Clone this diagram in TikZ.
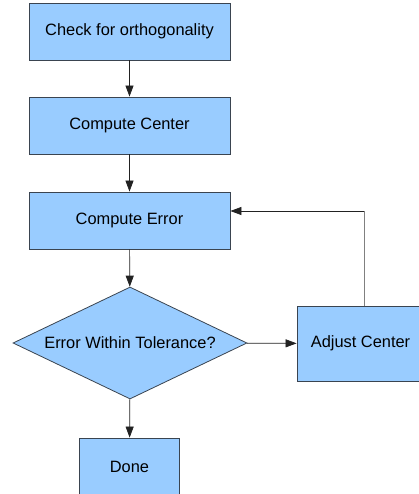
\documentclass[tikz,border=0pt]{standalone}
\usepackage{fontspec}
\setmainfont{Liberation Sans}
\usetikzlibrary{shapes.geometric,arrows.meta}
\definecolor{boxfill}{HTML}{99CCFF}
\definecolor{boxline}{HTML}{3A4450}
\definecolor{wire}{HTML}{222222}
\begin{document}
\begin{tikzpicture}[x=1pt,y=-1pt,
  every node/.style={font=\fontsize{16.4}{19}\selectfont, text=black},
  procbox/.style={draw=boxline, fill=boxfill, line width=0.8pt, rectangle,
    inner sep=0pt, minimum height=57pt},
  decision/.style={draw=boxline, fill=boxfill, line width=0.8pt, diamond,
    shape aspect=2.09, inner sep=0pt, minimum width=234pt, minimum height=112pt},
  flow/.style={draw=wire, line width=0.7pt,
    -{Triangle[length=11pt,width=8pt]}}
]
\useasboundingbox (0,0) rectangle (419,494);
\clip (0,0) rectangle (419,494);

\node[procbox, minimum width=201pt] (check)  at (129.5,31.5)  {Check for orthogonality};
\node[procbox, minimum width=201pt] (center) at (129.5,125.5) {Compute Center};
\node[procbox, minimum width=201pt] (error)  at (129.5,220.5) {Compute Error};
\node[decision] (tol) at (130,343) {Error Within Tolerance?};
\node[procbox, minimum width=134pt, minimum height=75pt] (adjust) at (364,343.5) {};
\node (adjusttext) at (360.5,343) {Adjust Center};
\node[procbox, minimum width=100pt] (done) at (129.5,466.5) {Done};

\coordinate (corner) at (adjust.north |- 0,211);
\coordinate (errin) at (error.east |- 0,211);

\draw[flow] (check) -- (center);
\draw[flow] (center) -- (error);
\draw[flow] (error) -- (tol);
\draw[flow] (tol) -- (adjust);
\draw[flow] (tol) -- (done);
\draw[draw=gray, line width=0.8pt] (adjust.north) -- (corner);
\draw[flow] (corner) -- (errin);
\end{tikzpicture}
\end{document}
